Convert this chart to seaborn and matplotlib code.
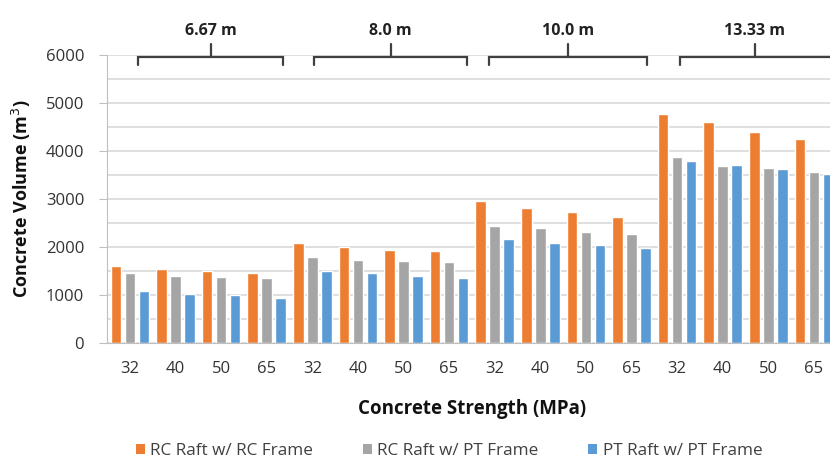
import matplotlib
matplotlib.use("Agg")
import matplotlib.pyplot as plt
import seaborn as sns
import pandas as pd
from matplotlib.patches import Patch

spans = ["6.67 m", "8.0 m", "10.0 m", "13.33 m"]
strengths = ["32", "40", "50", "65"]
series = ["RC Raft w/ RC Frame", "RC Raft w/ PT Frame", "PT Raft w/ PT Frame"]
rc_rc = [1600, 1540, 1500, 1450, 2090, 2005, 1940, 1925,
         2965, 2805, 2725, 2620, 4770, 4600, 4405, 4245]
rc_pt = [1465, 1385, 1370, 1350, 1800, 1730, 1710, 1680,
         2445, 2390, 2320, 2270, 3880, 3690, 3655, 3565]
pt_pt = [1085, 1030, 1000, 945, 1500, 1450, 1385, 1360,
         2175, 2075, 2035, 1985, 3790, 3710, 3630, 3515]
colors = ["#ED7D31", "#A5A5A5", "#5B9BD5"]

keys = [f"{s}|{c}" for s in spans for c in strengths]
labels = [c for s in spans for c in strengths]
rows = []
for name, vals in zip(series, [rc_rc, rc_pt, pt_pt]):
    for k, v in zip(keys, vals):
        rows.append({"key": k, "series": name, "value": v})
df = pd.DataFrame(rows)

sns.set_style("white")
plt.rcParams["font.family"] = ["Open Sans", "DejaVu Sans"]

fig = plt.figure(figsize=(8.30, 4.66), dpi=100)
ax = fig.add_axes([0.129, 0.264, 0.879, 0.618])
sns.barplot(data=df, x="key", y="value", hue="series", order=keys,
            hue_order=series, palette=colors, width=0.92, gap=0.24,
            ax=ax, legend=False, saturation=1)
ax.set_xlim(-0.5, 15.5)
ax.set_ylim(0, 6000)
ax.set_yticks(range(0, 6001, 1000))
ax.set_yticks(range(500, 6000, 1000), minor=True)
ax.grid(axis="y", which="both", color="#D9D9D9", linewidth=1.2)
ax.set_axisbelow(True)
for s in ["top", "right"]:
    ax.spines[s].set_visible(False)
ax.spines["left"].set_color("#BFBFBF")
ax.spines["bottom"].set_color("#BFBFBF")
ax.tick_params(axis="y", which="major", length=5.5, color="#BFBFBF",
               labelsize=12, labelcolor="#333333", left=True, pad=11)
ax.tick_params(axis="y", which="minor", length=0)
ax.tick_params(axis="x", length=0, labelsize=12, labelcolor="#333333", pad=13)
ax.set_xticks(range(16))
ax.set_xticklabels(labels)
ax.set_xlabel("Concrete Strength (MPa)", fontsize=13.5, fontweight="bold",
              labelpad=16, color="#111111")
ax.set_ylabel("Concrete Volume (m$^3$)", fontsize=13, fontweight="bold",
              labelpad=9, color="#111111")

# span brackets
brackets = [(0.18, 3.36), (4.04, 7.39), (7.87, 11.34), (12.06, 15.6)]
label_x = [1.78, 5.72, 9.6, 13.7]
for (x0, x1), lx, txt in zip(brackets, label_x, spans):
    ax.plot([x0, x0, x1, x1], [5790, 5960, 5960, 5790], color="#404040",
            lw=1.6, clip_on=False, solid_joinstyle="miter")
    ax.plot([lx, lx], [5960, 6230], color="#404040", lw=1.6, clip_on=False)
    ax.text(lx, 6330, txt, ha="center", va="bottom", fontsize=11.5,
            fontweight="bold", color="#222222")

handles = [Patch(facecolor=c, edgecolor="none") for c in colors]
fig.legend(handles, series, loc="center", bbox_to_anchor=(0.541, 0.032),
           ncol=3, frameon=False, fontsize=12.3, handlelength=0.55,
           handleheight=0.6, handletextpad=0.3, columnspacing=2.9,
           labelcolor="#404040")

fig.savefig("out.png", dpi=100)
